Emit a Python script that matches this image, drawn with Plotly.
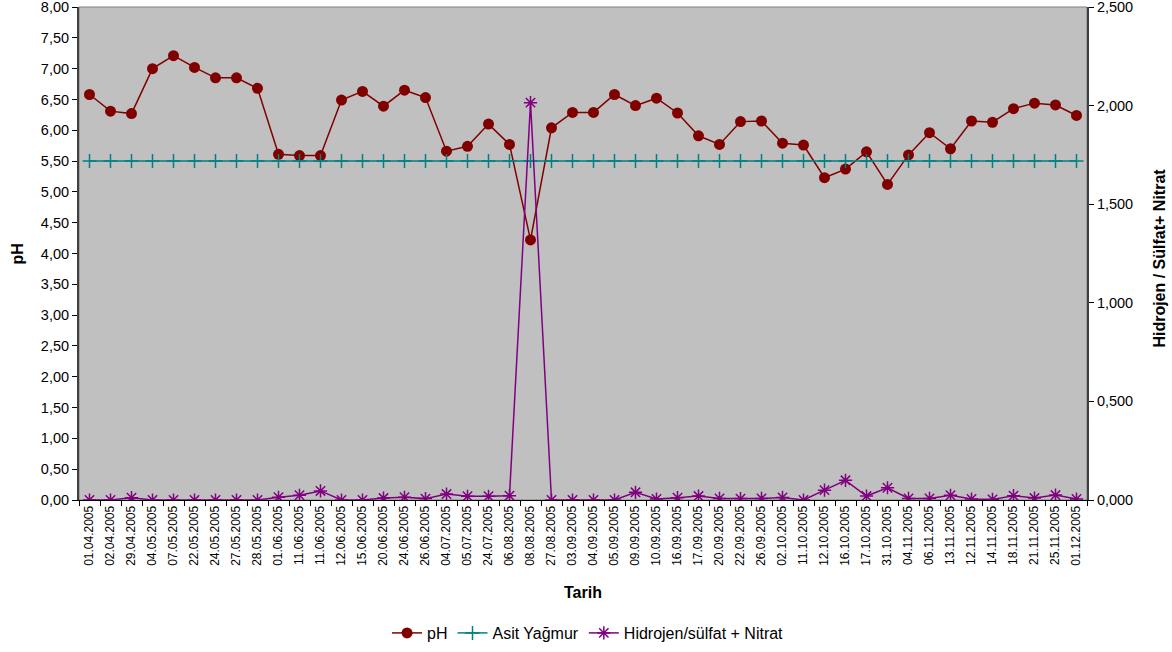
import plotly.graph_objects as go

dates = ["01.04.2005", "02.04.2005", "29.04.2005", "04.05.2005", "07.05.2005", "22.05.2005",
         "24.05.2005", "27.05.2005", "28.05.2005", "01.06.2005", "11.06.2005", "11.06.2005",
         "12.06.2005", "15.06.2005", "20.06.2005", "24.06.2005", "26.06.2005", "04.07.2005",
         "05.07.2005", "24.07.2005", "06.08.2005", "08.08.2005", "27.08.2005", "03.09.2005",
         "04.09.2005", "05.09.2005", "09.09.2005", "10.09.2005", "16.09.2005", "17.09.2005",
         "20.09.2005", "22.09.2005", "26.09.2005", "02.10.2005", "11.10.2005", "12.10.2005",
         "16.10.2005", "17.10.2005", "31.10.2005", "04.11.2005", "06.11.2005", "13.11.2005",
         "12.11.2005", "14.11.2005", "18.11.2005", "21.11.2005", "25.11.2005", "01.12.2005"]

ph = [6.58, 6.31, 6.27, 7.00, 7.21, 7.02, 6.85, 6.85, 6.68, 5.61, 5.59, 5.59,
      6.49, 6.63, 6.39, 6.65, 6.53, 5.66, 5.74, 6.10, 5.77, 4.22, 6.04, 6.29,
      6.29, 6.58, 6.40, 6.52, 6.28, 5.91, 5.77, 6.14, 6.15, 5.79, 5.76, 5.23,
      5.37, 5.65, 5.12, 5.60, 5.96, 5.70, 6.15, 6.13, 6.35, 6.44, 6.41, 6.24]

asit = [5.5] * 48

hidrojen = [0.0, 0.0, 0.012, 0.0, 0.0, 0.0, 0.0, 0.0, 0.0, 0.014, 0.024, 0.046,
            0.0, 0.0, 0.010, 0.014, 0.007, 0.030, 0.019, 0.019, 0.022, 2.015, 0.0, 0.0,
            0.0, 0.0, 0.039, 0.005, 0.012, 0.020, 0.008, 0.007, 0.008, 0.013, 0.0, 0.050,
            0.100, 0.020, 0.062, 0.008, 0.008, 0.024, 0.005, 0.003, 0.022, 0.010, 0.025, 0.005]

left_ticks = [i * 0.5 for i in range(17)]
left_text = [f"{v:.2f}".replace(".", ",") for v in left_ticks]
right_ticks = [i * 0.5 for i in range(6)]
right_text = [f"{v:.3f}".replace(".", ",") for v in right_ticks]

# make duplicate category labels unique with zero-width spaces
cats = []
seen = {}
for d in dates:
    n = seen.get(d, 0)
    cats.append(d + "\u200b" * n)
    seen[d] = n + 1

FONT = "Liberation Sans, Arial, sans-serif"

fig = go.Figure()
fig.add_trace(go.Scatter(
    x=cats, y=ph, name="pH", mode="lines+markers",
    line=dict(color="#800000", width=1.5),
    marker=dict(symbol="circle", size=11, color="#800000"),
))
fig.add_trace(go.Scatter(
    x=cats, y=asit, name="Asit Yağmur", mode="lines+markers",
    line=dict(color="#008080", width=1.5),
    marker=dict(symbol="cross-thin", size=10, line=dict(color="#008080", width=1.5)),
))
fig.add_trace(go.Scatter(
    x=cats, y=hidrojen, name="Hidrojen/sülfat + Nitrat", mode="lines+markers", yaxis="y2",
    line=dict(color="#800080", width=1.5),
    marker=dict(symbol="asterisk-open", size=11, line=dict(color="#800080", width=1.5)),
))

fig.update_layout(
    width=1172, height=652,
    margin=dict(l=79, r=85, t=7, b=152),
    paper_bgcolor="white", plot_bgcolor="#C0C0C0",
    font=dict(family=FONT, size=14, color="black"),
    showlegend=True,
    legend=dict(orientation="h", x=0.505, xanchor="center", yref="container",
                y=1 - 633 / 652, yanchor="middle",
                font=dict(size=16), bgcolor="rgba(0,0,0,0)"),
    xaxis=dict(type="category", categoryorder="array", categoryarray=cats,
               range=[-0.5, 47.5], tickangle=-90, tickfont=dict(size=12),
               tickson="boundaries", ticks="outside", ticklen=5, tickcolor="black",
               showline=True, linecolor="black", linewidth=1, showgrid=False, zeroline=False,
               automargin=False),
    yaxis=dict(range=[0, 8], tickvals=left_ticks, ticktext=left_text, ticks="outside",
               ticklen=5, tickcolor="black", showline=True, linecolor="#404040", linewidth=2,
               showgrid=False, zeroline=False, tickfont=dict(size=14.5), automargin=False,
               ticklabeloverflow="allow"),
    yaxis2=dict(range=[0, 2.5], tickvals=right_ticks, ticktext=right_text, overlaying="y",
                side="right", ticks="outside", ticklen=5, tickcolor="black", showline=True,
                linecolor="#404040", linewidth=2, showgrid=False, zeroline=False,
                tickfont=dict(size=14.5), automargin=False, ticklabeloverflow="allow"),
    shapes=[dict(type="rect", xref="paper", yref="paper", x0=0, x1=1, y0=0, y1=1,
                 line=dict(color="#808080", width=1), layer="below")],
    annotations=[
        dict(text="<b>Tarih</b>", xref="paper", yref="paper", x=0.5, y=-0.187,
             xanchor="center", yanchor="middle", showarrow=False, font=dict(size=16)),
        dict(text="<b>pH</b>", xref="paper", yref="paper", x=-0.0606, y=0.5,
             xanchor="center", yanchor="middle", textangle=-90, showarrow=False,
             font=dict(size=16)),
        dict(text="<b>Hidrojen / Sülfat+ Nitrat</b>", xref="paper", yref="paper",
             x=1.0716, y=0.49, xanchor="center", yanchor="middle", textangle=-90,
             showarrow=False, font=dict(size=16)),
    ],
)

fig.write_html("out.html", config={"displayModeBar": False},
               post_script="document.body.style.margin='0';")
